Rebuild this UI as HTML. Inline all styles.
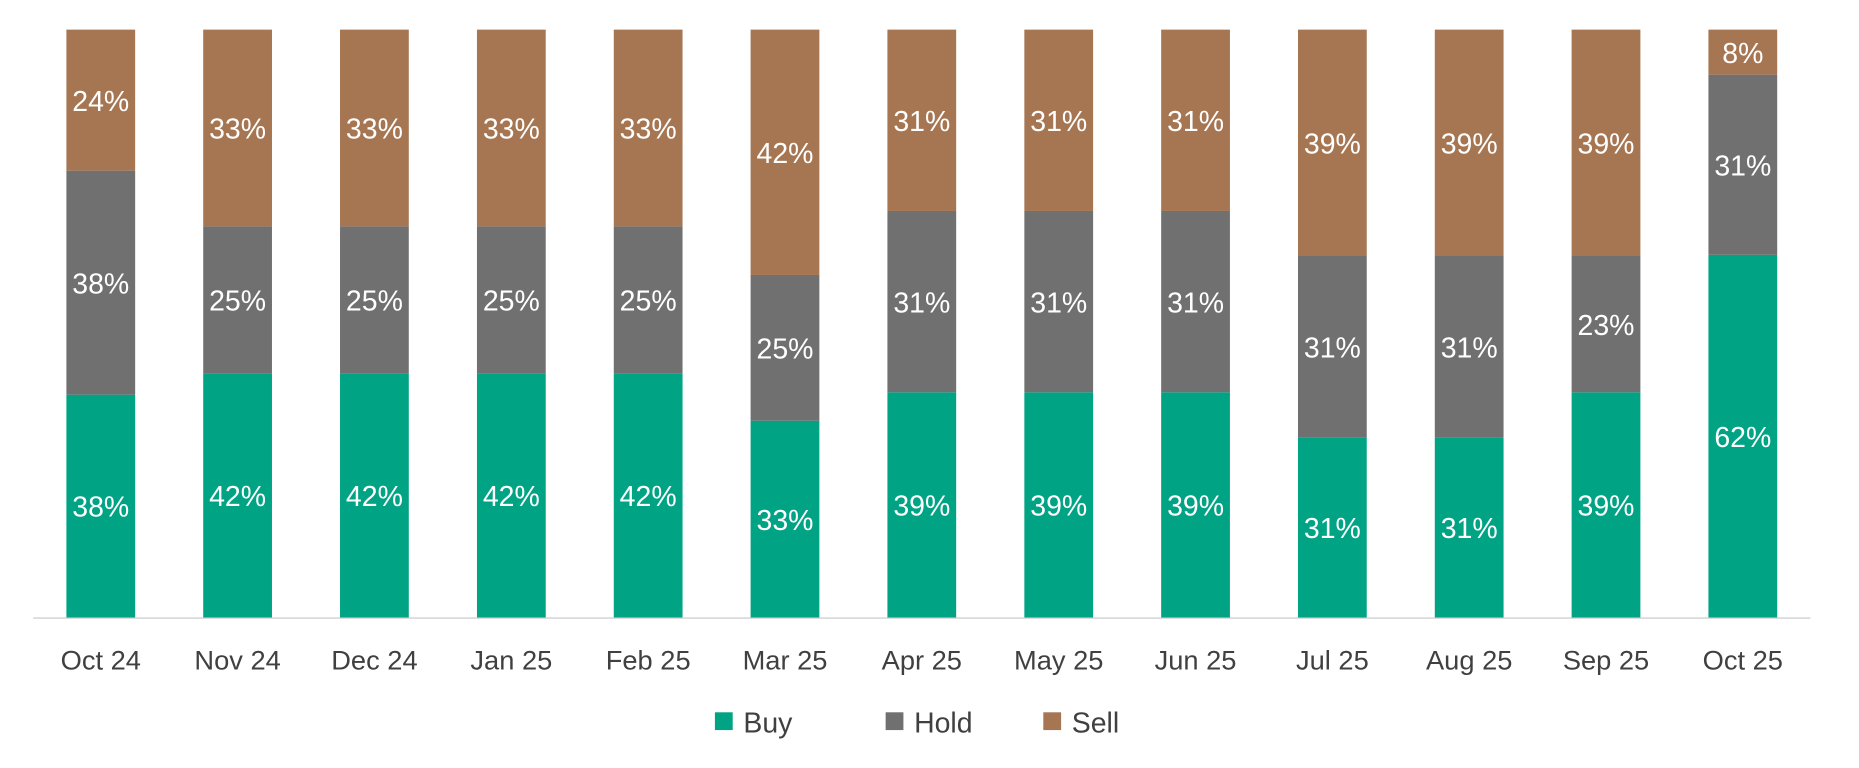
<!DOCTYPE html>
<html><head><meta charset="utf-8"><style>html,body{margin:0;padding:0;background:#fff;}svg{display:block}</style></head>
<body>
<svg width="1859" height="768" viewBox="0 0 1568 648" preserveAspectRatio="none" xmlns="http://www.w3.org/2000/svg" font-family="'Liberation Sans', sans-serif">
<line x1="28" y1="521.5" x2="1527" y2="521.5" stroke="#d0d0d0" stroke-width="1.2"/>
<style>.v{font-size:24px;fill:#fff}.a{font-size:23px;fill:#404040}</style>
<g text-anchor="middle">
<g transform="translate(56,0)"><rect y="333" width="58" height="188" fill="#00A383"/><rect y="144" width="58" height="189" fill="#707070"/><rect y="25" width="58" height="119" fill="#A67552"/><text x="29" y="436" class="v">38%</text><text x="29" y="247.5" class="v">38%</text><text x="29" y="93.5" class="v">24%</text><text x="29" y="565" class="a">Oct 24</text></g>
<g transform="translate(171.4,0)"><rect y="315" width="58" height="206" fill="#00A383"/><rect y="191" width="58" height="124" fill="#707070"/><rect y="25" width="58" height="166" fill="#A67552"/><text x="29" y="427" class="v">42%</text><text x="29" y="262" class="v">25%</text><text x="29" y="117" class="v">33%</text><text x="29" y="565" class="a">Nov 24</text></g>
<g transform="translate(286.8,0)"><rect y="315" width="58" height="206" fill="#00A383"/><rect y="191" width="58" height="124" fill="#707070"/><rect y="25" width="58" height="166" fill="#A67552"/><text x="29" y="427" class="v">42%</text><text x="29" y="262" class="v">25%</text><text x="29" y="117" class="v">33%</text><text x="29" y="565" class="a">Dec 24</text></g>
<g transform="translate(402.3,0)"><rect y="315" width="58" height="206" fill="#00A383"/><rect y="191" width="58" height="124" fill="#707070"/><rect y="25" width="58" height="166" fill="#A67552"/><text x="29" y="427" class="v">42%</text><text x="29" y="262" class="v">25%</text><text x="29" y="117" class="v">33%</text><text x="29" y="565" class="a">Jan 25</text></g>
<g transform="translate(517.7,0)"><rect y="315" width="58" height="206" fill="#00A383"/><rect y="191" width="58" height="124" fill="#707070"/><rect y="25" width="58" height="166" fill="#A67552"/><text x="29" y="427" class="v">42%</text><text x="29" y="262" class="v">25%</text><text x="29" y="117" class="v">33%</text><text x="29" y="565" class="a">Feb 25</text></g>
<g transform="translate(633.1,0)"><rect y="355" width="58" height="166" fill="#00A383"/><rect y="232" width="58" height="123" fill="#707070"/><rect y="25" width="58" height="207" fill="#A67552"/><text x="29" y="447" class="v">33%</text><text x="29" y="302.5" class="v">25%</text><text x="29" y="137.5" class="v">42%</text><text x="29" y="565" class="a">Mar 25</text></g>
<g transform="translate(748.5,0)"><rect y="331" width="58" height="190" fill="#00A383"/><rect y="178" width="58" height="153" fill="#707070"/><rect y="25" width="58" height="153" fill="#A67552"/><text x="29" y="435" class="v">39%</text><text x="29" y="263.5" class="v">31%</text><text x="29" y="110.5" class="v">31%</text><text x="29" y="565" class="a">Apr 25</text></g>
<g transform="translate(864,0)"><rect y="331" width="58" height="190" fill="#00A383"/><rect y="178" width="58" height="153" fill="#707070"/><rect y="25" width="58" height="153" fill="#A67552"/><text x="29" y="435" class="v">39%</text><text x="29" y="263.5" class="v">31%</text><text x="29" y="110.5" class="v">31%</text><text x="29" y="565" class="a">May 25</text></g>
<g transform="translate(979.4,0)"><rect y="331" width="58" height="190" fill="#00A383"/><rect y="178" width="58" height="153" fill="#707070"/><rect y="25" width="58" height="153" fill="#A67552"/><text x="29" y="435" class="v">39%</text><text x="29" y="263.5" class="v">31%</text><text x="29" y="110.5" class="v">31%</text><text x="29" y="565" class="a">Jun 25</text></g>
<g transform="translate(1094.8,0)"><rect y="369" width="58" height="152" fill="#00A383"/><rect y="216" width="58" height="153" fill="#707070"/><rect y="25" width="58" height="191" fill="#A67552"/><text x="29" y="454" class="v">31%</text><text x="29" y="301.5" class="v">31%</text><text x="29" y="129.5" class="v">39%</text><text x="29" y="565" class="a">Jul 25</text></g>
<g transform="translate(1210.2,0)"><rect y="369" width="58" height="152" fill="#00A383"/><rect y="216" width="58" height="153" fill="#707070"/><rect y="25" width="58" height="191" fill="#A67552"/><text x="29" y="454" class="v">31%</text><text x="29" y="301.5" class="v">31%</text><text x="29" y="129.5" class="v">39%</text><text x="29" y="565" class="a">Aug 25</text></g>
<g transform="translate(1325.6,0)"><rect y="331" width="58" height="190" fill="#00A383"/><rect y="216" width="58" height="115" fill="#707070"/><rect y="25" width="58" height="191" fill="#A67552"/><text x="29" y="435" class="v">39%</text><text x="29" y="282.5" class="v">23%</text><text x="29" y="129.5" class="v">39%</text><text x="29" y="565" class="a">Sep 25</text></g>
<g transform="translate(1441,0)"><rect y="215" width="58" height="306" fill="#00A383"/><rect y="63" width="58" height="152" fill="#707070"/><rect y="25" width="58" height="38" fill="#A67552"/><text x="29" y="377" class="v">62%</text><text x="29" y="148" class="v">31%</text><text x="29" y="53" class="v">8%</text><text x="29" y="565" class="a">Oct 25</text></g>
</g>
<g font-size="24" fill="#404040">
<rect x="603" y="601" width="15" height="15" fill="#00A383"/><text x="627" y="618">Buy</text>
<rect x="747" y="601" width="15" height="15" fill="#707070"/><text x="771" y="618">Hold</text>
<rect x="880" y="601" width="15" height="15" fill="#A67552"/><text x="904" y="618">Sell</text>
</g>
</svg>
</body></html>
